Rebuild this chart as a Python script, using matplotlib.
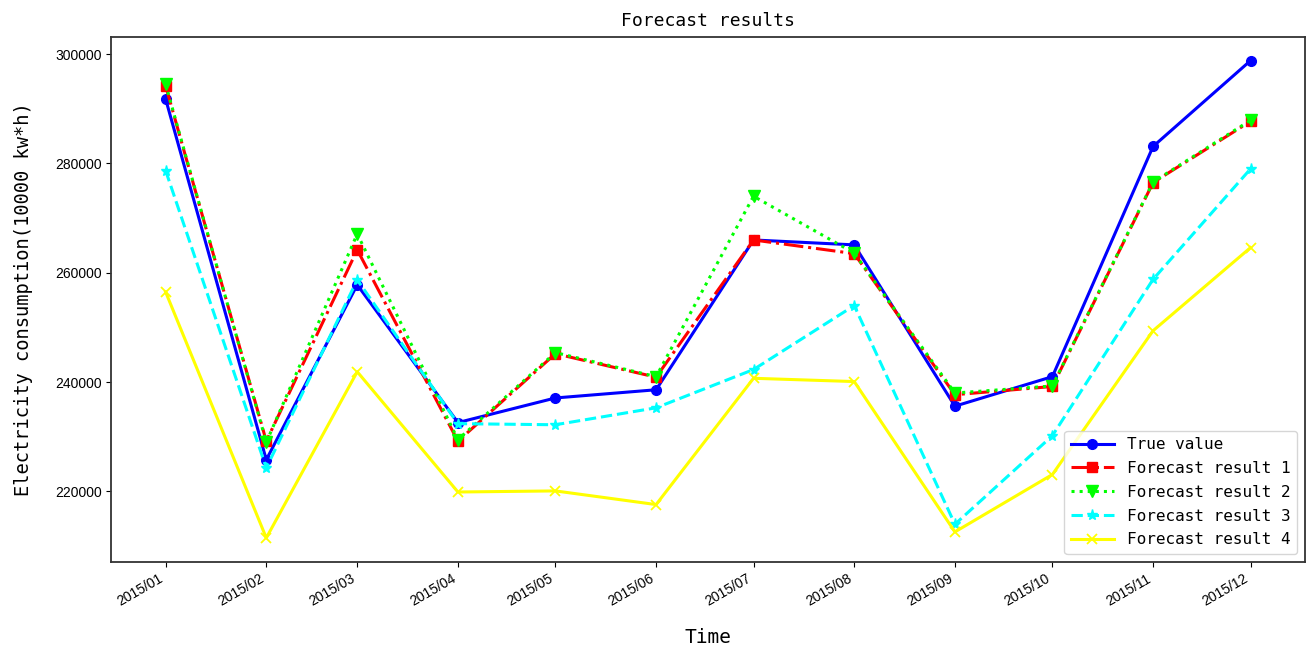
import matplotlib
matplotlib.use("Agg")
import matplotlib.pyplot as plt
import matplotlib.dates as mdates
import pandas as pd

# monthly electricity consumption, 10000 kw*h
months = pd.date_range("2015-01-01", periods=12, freq="MS")
true_value = [291800, 225800, 257800, 232600, 237100, 238600,
              266000, 265100, 235600, 241000, 283100, 298800]
forecast_1 = [294200, 229200, 264200, 229200, 245200, 240900,
              266000, 263500, 237700, 239200, 276500, 287700]
forecast_2 = [294500, 229000, 267100, 229500, 245400, 241000,
              274000, 263600, 238000, 239300, 276600, 287900]
forecast_3 = [278700, 224300, 258700, 232400, 232200, 235300,
              242300, 254000, 214000, 230200, 258800, 279000]
forecast_4 = [256500, 211500, 241900, 219900, 220100, 217600,
              240700, 240100, 212600, 223100, 249400, 264600]

label_font = ["DejaVu Sans Mono"]
tick_font = "Liberation Sans"

fig, ax = plt.subplots(figsize=(13.1, 6.45), dpi=100)
fig.subplots_adjust(left=0.085, right=0.996, top=0.943, bottom=0.129)

ax.plot(months, true_value, color="blue", ls="-", lw=2.2, marker="o", ms=7,
        label="True value")
ax.plot(months, forecast_1, color="red", ls="-.", lw=2.2, marker="s", ms=7.5,
        label="Forecast result 1")
ax.plot(months, forecast_2, color="lime", ls=":", lw=2.2, marker="v", ms=8,
        label="Forecast result 2")
ax.plot(months, forecast_3, color="cyan", ls="--", lw=2.2, marker="*", ms=8,
        label="Forecast result 3")
ax.plot(months, forecast_4, color="yellow", ls="-", lw=2.2, marker="x", ms=7,
        markeredgewidth=1.3, label="Forecast result 4")

ax.set_xticks(months)
ax.xaxis.set_major_formatter(mdates.DateFormatter("%Y/%m"))
ax.set_yticks([220000, 240000, 260000, 280000, 300000])
for lbl in ax.get_xticklabels():
    lbl.set_rotation(30)
    lbl.set_ha("right")
    lbl.set_fontfamily(tick_font)
    lbl.set_fontsize(10)
for lbl in ax.get_yticklabels():
    lbl.set_fontfamily(tick_font)
    lbl.set_fontsize(10)

for sp in ax.spines.values():
    sp.set_linewidth(1.3)
    sp.set_color("#333333")

ax.set_title("Forecast results", family=label_font, fontsize=13, pad=8)
ax.set_xlabel("Time", family=label_font, fontsize=14, labelpad=14)
ax.set_ylabel("Electricity consumption(10000 kw*h)", family=label_font,
              fontsize=13.5, labelpad=16)

ax.legend(loc="lower right", prop={"family": label_font, "size": 11.5},
          handlelength=2.7, labelspacing=0.55)

fig.savefig("out.png", dpi=100)
